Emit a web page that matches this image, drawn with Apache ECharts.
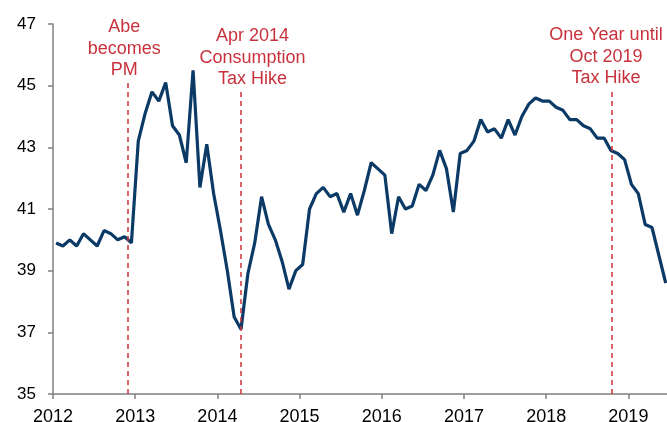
<!DOCTYPE html>
<html>
<head>
<meta charset="utf-8">
<script src="https://cdn.jsdelivr.net/npm/echarts@6/dist/echarts.min.js"></script>
<style>
  html, body { margin: 0; padding: 0; background: #fff; }
  #chart { width: 667px; height: 422px; }
</style>
</head>
<body>
<div id="chart"></div>
<script>
// monthly readings, one array per year
var startYear = 2012;
var v2012 = [39.9, 39.8, 40.0, 39.8, 40.2, 40.0, 39.8, 40.3, 40.2, 40.0, 40.1, 39.9];
var v2013 = [43.2, 44.1, 44.8, 44.5, 45.1, 43.7, 43.4, 42.5, 45.5, 41.7, 43.1, 41.5];
var v2014 = [40.3, 39.0, 37.5, 37.1, 38.9, 39.9, 41.4, 40.5, 40.0, 39.3, 38.4, 39.0];
var v2015 = [39.2, 41.0, 41.5, 41.7, 41.4, 41.5, 40.9, 41.5, 40.8, 41.6, 42.5, 42.3];
var v2016 = [42.1, 40.2, 41.4, 41.0, 41.1, 41.8, 41.6, 42.1, 42.9, 42.3, 40.9, 42.8];
var v2017 = [42.9, 43.2, 43.9, 43.5, 43.6, 43.3, 43.9, 43.4, 44.0, 44.4, 44.6, 44.5];
var v2018 = [44.5, 44.3, 44.2, 43.9, 43.9, 43.7, 43.6, 43.3, 43.3, 42.9, 42.8, 42.6];
var v2019 = [41.8, 41.5, 40.5, 40.4, 39.5, 38.6];

// events marked with dashed lines (date as fractional year)
var eventLabels = ['Abe\nbecomes\nPM', 'Apr 2014\nConsumption\nTax Hike', 'One Year until\nOct 2019\nTax Hike'];
var eventDates = [2012.915, 2014.28, 2018.80];

var yTicks = [35, 37, 39, 41, 43, 45, 47];

var years = [v2012, v2013, v2014, v2015, v2016, v2017, v2018, v2019];
var seriesData = [];
years.forEach(function (vals, yi) {
    vals.forEach(function (v, m) {
        // plot each month near the middle of the month
        seriesData.push([startYear + yi + (m + 0.45) / 12, v]);
    });
});

// line tops / label nudges (styling only)
var lineTops = [45.19, 44.80, 44.86];
var labelNudge = [[-4, 3], [12, 0], [-6, 1]];

var markData = eventDates.map(function (d, i) {
    return [
        { coord: [d, yTicks[0]] },
        {
            coord: [d, lineTops[i]],
            label: { formatter: eventLabels[i], offset: labelNudge[i] }
        }
    ];
});

var chart = echarts.init(document.getElementById('chart'));
var axisGrey = '#808080';

chart.setOption({
    animation: false,
    grid: { left: 53, right: 0, top: 24, bottom: 28, outerBoundsMode: 'none' },
    xAxis: {
        type: 'value',
        min: 2012,
        max: 2019.47,
        interval: 1,
        axisLine: { lineStyle: { color: axisGrey, width: 1.5 } },
        axisTick: { show: true, length: 5, lineStyle: { color: axisGrey, width: 1.5 } },
        axisLabel: {
            margin: 14,
            color: '#000',
            fontSize: 18,
            fontFamily: 'Liberation Sans',
            showMaxLabel: false,
            formatter: function (v) {
                return Math.abs(v - Math.round(v)) < 1e-6 ? String(Math.round(v)) : '';
            }
        },
        splitLine: { show: false }
    },
    yAxis: {
        type: 'value',
        min: yTicks[0],
        max: yTicks[yTicks.length - 1],
        interval: 2,
        axisLine: { show: true, lineStyle: { color: axisGrey, width: 1.5 } },
        axisTick: { show: true, length: 5, lineStyle: { color: axisGrey, width: 1.5 } },
        axisLabel: {
            margin: 17,
            color: '#000',
            fontSize: 17,
            fontFamily: 'Liberation Sans'
        },
        splitLine: { show: false }
    },
    series: [
        {
            type: 'line',
            data: seriesData,
            showSymbol: false,
            lineStyle: { color: '#0b3a66', width: 3.2 },
            z: 3
        },
        {
            type: 'line',
            data: [],
            markLine: {
                silent: true,
                symbol: 'none',
                lineStyle: { color: '#d0323a', type: [5, 4], width: 1.5 },
                label: {
                    show: true,
                    position: 'end',
                    distance: 2,
                    color: '#c8323c',
                    fontSize: 18,
                    lineHeight: 21.5,
                    align: 'center',
                    fontFamily: 'Liberation Sans'
                },
                data: markData
            },
            z: 2
        }
    ]
});
</script>
</body>
</html>
